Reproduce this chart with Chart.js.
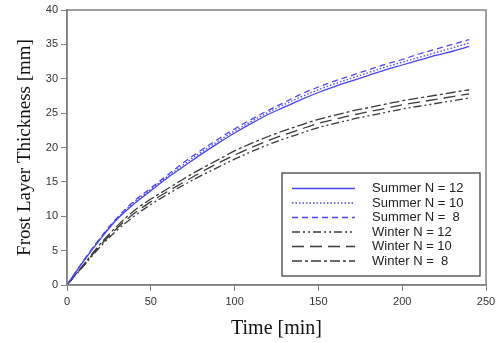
<!DOCTYPE html>
<html>
<head>
<meta charset="utf-8">
<script src="https://cdn.jsdelivr.net/npm/chart.js@4.4.1/dist/chart.umd.min.js"></script>
<style>
    html, body { margin: 0; padding: 0; background: #fff; }
    #wrap { width: 501px; height: 343px; }
</style>
</head>
<body>
<div id="wrap"><canvas id="frostChart" width="501" height="343"></canvas></div>
<script>
// time axis (min)
const times = [0, 10, 20, 30, 40, 50, 60, 70, 80, 90, 100, 110, 120, 130, 140, 150, 160, 170, 180, 190, 200, 210, 220, 230, 240];

// frost layer thickness (mm)
const summerN12 = [0, 3.5, 6.7, 9.6, 11.8, 13.7, 15.6, 17.3, 19.0, 20.6, 22.1, 23.5, 24.8, 25.9, 27.0, 28.0, 28.9, 29.7, 30.5, 31.3, 32.0, 32.7, 33.4, 34.0, 34.7];
const summerN10 = [0, 3.5, 6.8, 9.7, 12.0, 13.9, 15.8, 17.6, 19.3, 20.9, 22.4, 23.8, 25.1, 26.3, 27.4, 28.4, 29.3, 30.1, 30.9, 31.7, 32.4, 33.1, 33.8, 34.5, 35.2];
const summerN8  = [0, 3.6, 6.9, 9.8, 12.2, 14.1, 16.0, 17.9, 19.6, 21.2, 22.7, 24.1, 25.4, 26.6, 27.8, 28.8, 29.7, 30.5, 31.3, 32.1, 32.8, 33.6, 34.3, 35.0, 35.7];
const winterN12 = [0, 2.8, 5.6, 8.0, 10.0, 11.7, 13.2, 14.6, 15.9, 17.1, 18.3, 19.4, 20.4, 21.3, 22.1, 22.9, 23.5, 24.1, 24.6, 25.1, 25.6, 26.0, 26.4, 26.8, 27.2];
const winterN10 = [0, 2.9, 5.8, 8.3, 10.4, 12.1, 13.6, 15.0, 16.4, 17.7, 18.9, 20.0, 21.0, 21.9, 22.7, 23.5, 24.1, 24.7, 25.2, 25.7, 26.2, 26.6, 27.0, 27.4, 27.8];
const winterN8  = [0, 3.0, 6.0, 8.6, 10.8, 12.5, 14.0, 15.5, 16.9, 18.2, 19.5, 20.6, 21.6, 22.5, 23.3, 24.1, 24.7, 25.3, 25.8, 26.3, 26.8, 27.2, 27.6, 28.0, 28.4];

const xTicks = [0, 50, 100, 150, 200, 250];
const yTicks = [0, 5, 10, 15, 20, 25, 30, 35, 40];

const seriesLabels = ['Summer N = 12', 'Summer N = 10', 'Summer N =  8', 'Winter N = 12', 'Winter N = 10', 'Winter N =  8'];

const BLUE = 'rgb(70, 70, 245)';
const DARK = '#3a3a3a';
const FRAME = '#808080';

function toPoints(values) {
    return values.map((v, i) => ({ x: times[i], y: v }));
}

function makeDataset(label, values, color, dash) {
    return {
        label: label,
        data: toPoints(values),
        borderColor: color,
        backgroundColor: color,
        borderWidth: 1.3,
        borderDash: dash,
        pointRadius: 0,
        tension: 0.35,
        fill: false
    };
}

// frame round the plot + legend box inside it
const framePlugin = {
    id: 'frameAndLegend',
    afterDraw(chart) {
        const ctx = chart.ctx;
        const a = chart.chartArea;
        ctx.save();
        ctx.strokeStyle = FRAME;
        ctx.lineWidth = 1.5;
        ctx.strokeRect(a.left, a.top, a.right - a.left, a.bottom - a.top);

        // legend box
        const bx = 282, by = 173, bw = 198, bh = 103;
        ctx.fillStyle = '#fff';
        ctx.fillRect(bx, by, bw, bh);
        ctx.strokeStyle = '#444';
        ctx.lineWidth = 1.3;
        ctx.strokeRect(bx, by, bw, bh);

        ctx.font = '13px "Liberation Sans", Arial, sans-serif';
        ctx.textBaseline = 'middle';
        ctx.textAlign = 'left';
        chart.data.datasets.forEach((ds, i) => {
            const y = by + 15.5 + i * 14.5;
            ctx.beginPath();
            ctx.setLineDash(ds.borderDash || []);
            ctx.strokeStyle = ds.borderColor;
            ctx.lineWidth = ds.borderWidth;
            ctx.moveTo(292, y);
            ctx.lineTo(355, y);
            ctx.stroke();
            ctx.setLineDash([]);
            ctx.fillStyle = '#222';
            ctx.fillText(ds.label, 372, y);
        });
        ctx.restore();
    }
};

function initFrostChart() {
    const ctx = document.getElementById('frostChart').getContext('2d');
    const tickFont = { family: '"Liberation Sans", Arial, sans-serif', size: 11 };
    const titleFont = { family: '"Liberation Serif", "Times New Roman", serif', size: 20 };

    new Chart(ctx, {
        type: 'line',
        data: {
            datasets: [
                makeDataset(seriesLabels[0], summerN12, BLUE, []),
                makeDataset(seriesLabels[1], summerN10, BLUE, [1.5, 2]),
                makeDataset(seriesLabels[2], summerN8, BLUE, [6, 4]),
                makeDataset(seriesLabels[3], winterN12, DARK, [8, 3, 2, 3, 2, 3]),
                makeDataset(seriesLabels[4], winterN10, DARK, [12, 6]),
                makeDataset(seriesLabels[5], winterN8, DARK, [10, 3, 3, 3])
            ]
        },
        options: {
            responsive: false,
            animation: false,
            layout: { padding: { left: 0, top: 10, right: 15, bottom: 0 } },
            plugins: {
                legend: { display: false },
                tooltip: { enabled: false }
            },
            scales: {
                x: {
                    type: 'linear',
                    min: 0,
                    max: 250,
                    afterBuildTicks: (s) => { s.ticks = xTicks.map(v => ({ value: v })); },
                    afterFit: (s) => { s.height = 58; },
                    grid: { drawOnChartArea: false, tickLength: 6, color: FRAME },
                    border: { color: FRAME, width: 1.5 },
                    ticks: { font: tickFont, color: '#333', padding: 4, maxRotation: 0 },
                    title: { display: true, text: 'Time [min]', font: titleFont, color: '#111', padding: { top: 4, bottom: 2 } }
                },
                y: {
                    min: 0,
                    max: 40,
                    afterBuildTicks: (s) => { s.ticks = yTicks.map(v => ({ value: v })); },
                    afterFit: (s) => { s.width = 67; },
                    grid: { drawOnChartArea: false, tickLength: 6, color: FRAME },
                    border: { color: FRAME, width: 1.5 },
                    ticks: { font: tickFont, color: '#333', padding: 3 },
                    title: { display: true, text: 'Frost Layer Thickness [mm]', font: Object.assign({}, titleFont, { size: 19 }), color: '#111', padding: { top: 14, bottom: 4 } }
                }
            }
        },
        plugins: [framePlugin]
    });
}

initFrostChart();
</script>
</body>
</html>
